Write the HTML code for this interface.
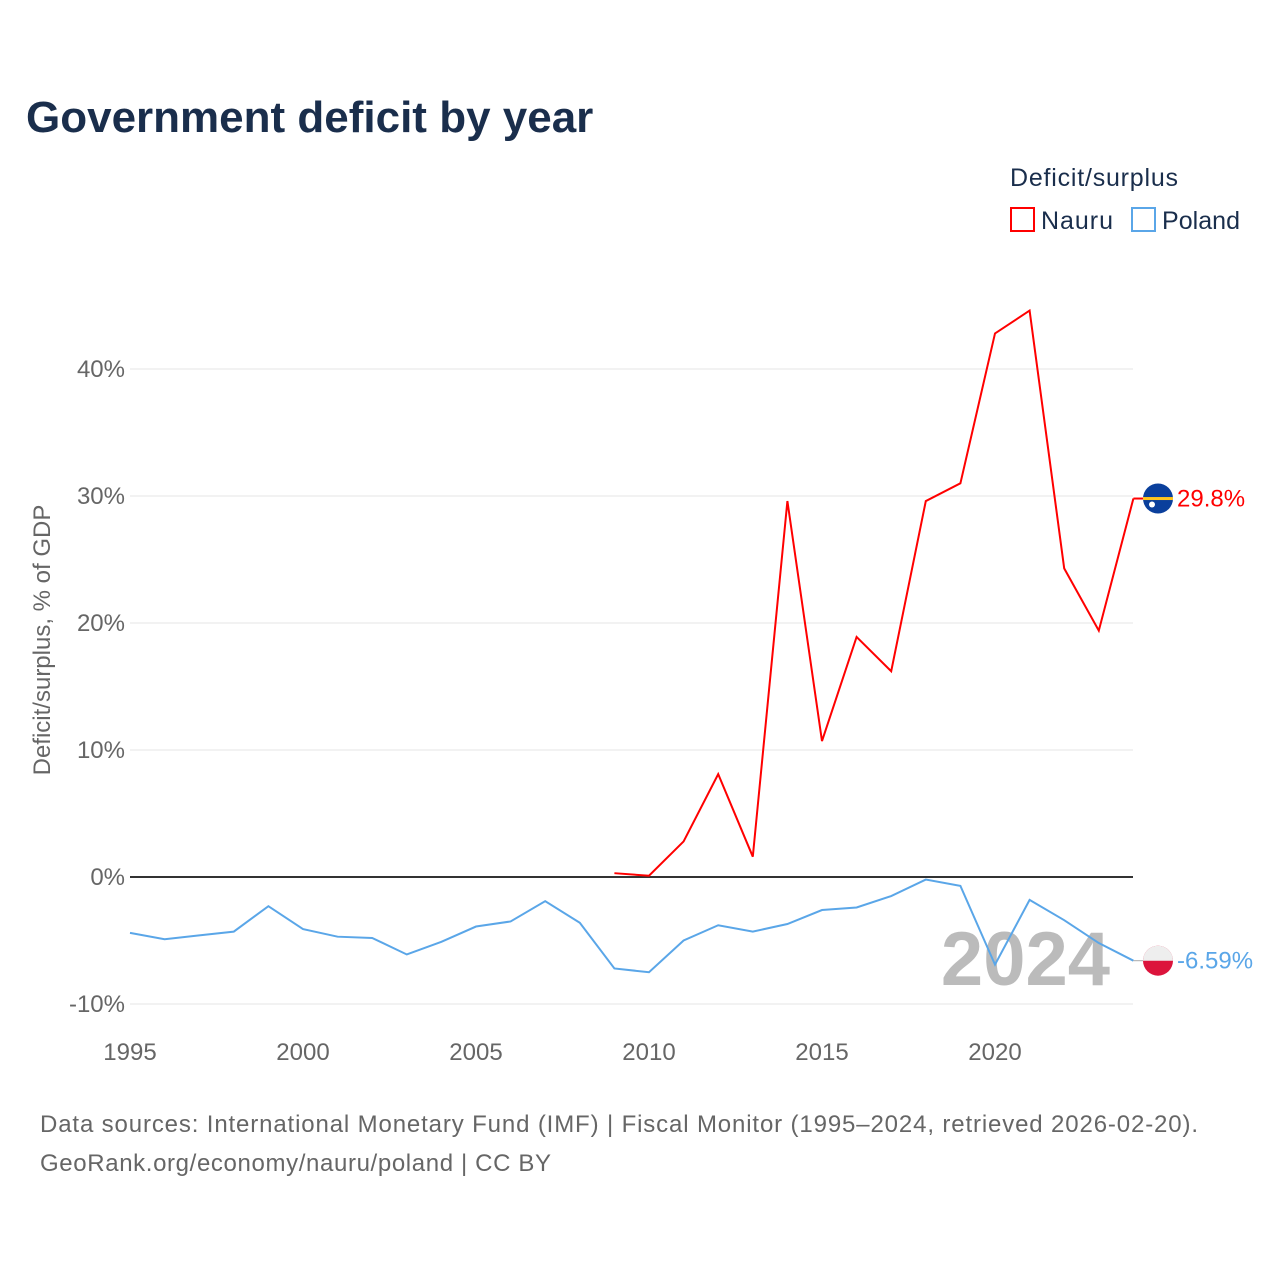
<!DOCTYPE html>
<html><head><meta charset="utf-8">
<style>
body{margin:0;background:#fff;font-family:"Liberation Sans",sans-serif;}
svg text{font-family:"Liberation Sans",sans-serif;}
</style></head>
<body>
<svg id="chart" width="1280" height="1280" viewBox="0 0 1280 1280">
<text x="26" y="132" font-size="44" font-weight="bold" fill="#1a2e4c">Government deficit by year</text>
<text x="1010" y="186" font-size="25" fill="#1a2e4c" textLength="168">Deficit/surplus</text>
<g><rect x="1011" y="208" width="23" height="23" fill="none" stroke="#ff0000" stroke-width="2"/><text x="1041" y="229" font-size="25" fill="#1a2e4c" textLength="72">Nauru</text></g>
<g><rect x="1132" y="208" width="23" height="23" fill="none" stroke="#5aa6e8" stroke-width="2"/><text x="1162" y="229" font-size="25" fill="#1a2e4c" textLength="78">Poland</text></g>
<text transform="translate(50,640) rotate(-90)" text-anchor="middle" font-size="24" fill="#666">Deficit/surplus, % of GDP</text>
<g id="grid"></g><g id="yticks"></g><g id="xticks"></g>
<text x="1110" y="985" text-anchor="end" font-size="76" font-weight="bold" fill="#bbb">2024</text>
<g id="series"></g>
<text x="40" y="1132" font-size="24" fill="#666" textLength="1158">Data sources: International Monetary Fund (IMF) | Fiscal Monitor (1995–2024, retrieved 2026-02-20).</text>
<text x="40" y="1171" font-size="24" fill="#666" textLength="511">GeoRank.org/economy/nauru/poland | CC BY</text>
</svg>
<script>
const years=[1995,1996,1997,1998,1999,2000,2001,2002,2003,2004,2005,2006,2007,2008,2009,2010,2011,2012,2013,2014,2015,2016,2017,2018,2019,2020,2021,2022,2023,2024];
const nauruYears=[2009,2010,2011,2012,2013,2014,2015,2016,2017,2018,2019,2020,2021,2022,2023,2024];
const nauru=[0.3,0.1,2.8,8.1,1.6,29.6,10.7,18.9,16.2,29.6,31.0,42.8,44.6,24.3,19.4,29.8];
const poland=[-4.4,-4.9,-4.6,-4.3,-2.3,-4.1,-4.7,-4.8,-6.1,-5.1,-3.9,-3.5,-1.9,-3.6,-7.2,-7.5,-5.0,-3.8,-4.3,-3.7,-2.6,-2.4,-1.5,-0.2,-0.7,-6.9,-1.8,-3.4,-5.2,-6.59];
const yTicks=[-10,0,10,20,30,40];
const yTickLabels=["-10%","0%","10%","20%","30%","40%"];
const xTicks=[1995,2000,2005,2010,2015,2020];
const NS="http://www.w3.org/2000/svg";
const x=v=>130+(v-1995)*(995-130)/25;
const y=v=>877-v*(877-369)/40;
function mk(t,a,p){const e=document.createElementNS(NS,t);for(const k in a)e.setAttribute(k,a[k]);p.appendChild(e);return e;}
const g=document.getElementById('grid'),yt=document.getElementById('yticks'),xt=document.getElementById('xticks'),s=document.getElementById('series');
yTicks.forEach((v,i)=>{
 const l=mk('line',{x1:130,x2:1133,y1:y(v),y2:y(v),stroke:v===0?'#333':'#e6e6e6','stroke-width':v===0?2:1},g);
 
 
 const t=mk('text',{x:125,y:y(v)+8,'text-anchor':'end','font-size':24,fill:'#666'},yt);t.textContent=yTickLabels[i];
 
 
});
xTicks.forEach(v=>{
 const t=mk('text',{x:x(v),y:1060,'text-anchor':'middle','font-size':24,fill:'#666'},xt);t.textContent=v;
 
 
});
const pp=mk('polyline',{points:years.map((yr,i)=>x(yr)+','+y(poland[i])).join(' '),fill:'none',stroke:'#5aa6e8','stroke-width':2},s);


const np=mk('polyline',{points:nauruYears.map((yr,i)=>x(yr)+','+y(nauru[i])).join(' '),fill:'none',stroke:'#ff0000','stroke-width':2},s);


const nl=nauru[nauru.length-1],pl=poland[poland.length-1];
mk('line',{x1:x(2024),x2:1143,y1:y(nl),y2:y(nl),stroke:'#ff0000','stroke-width':2},s);
mk('line',{x1:x(2024),x2:1143,y1:y(pl),y2:y(pl),stroke:'#aaa','stroke-width':1},s);
const nc=mk('circle',{cx:1158,cy:y(nl),r:15,fill:'#0a3f9c'},s);


mk('rect',{x:1143,y:y(nl)-1.5,width:30,height:3,fill:'#ffc61e'},s);
mk('circle',{cx:1152,cy:y(nl)+6,r:3,fill:'#fff'},s);
const pc=mk('circle',{cx:1158,cy:y(pl),r:15,fill:'#dc143c'},s);


mk('path',{d:`M1143 ${y(pl)} A15 15 0 0 1 1173 ${y(pl)} Z`,fill:'#eee'},s);
const t1=mk('text',{x:1177,y:y(nl)+8,'font-size':24,fill:'#ff0000'},s);t1.textContent=nl.toFixed(1)+'%';


const t2=mk('text',{x:1177,y:y(pl)+8,'font-size':24,fill:'#5aa6e8'},s);t2.textContent=pl.toFixed(2)+'%';


</script>
</body></html>
